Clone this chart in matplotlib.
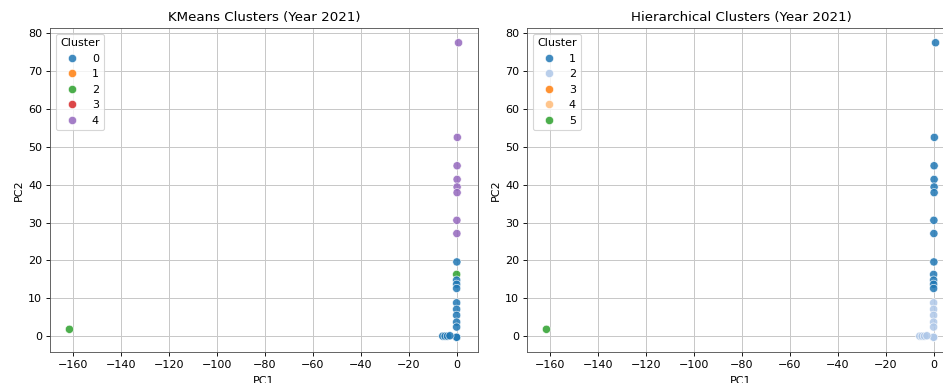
import matplotlib
matplotlib.use("Agg")
import matplotlib.pyplot as plt
import pandas as pd
import seaborn as sns

# PCA projection of the 2021 observations and their cluster assignments
pc1 = [0.8, 0.3, 0.2, 0.2, 0.2, 0.2, 0.1, 0.1,
       0.1, 0.0, 0.0, 0.0, 0.0,
       0.0, 0.0, 0.0, 0.0, 0.0, 0.0,
       0.0, -5.8, -4.8, -3.8, -2.8,
       -161.5]
pc2 = [77.5, 52.5, 45.0, 41.4, 39.4, 37.9, 30.6, 27.1,
       19.6, 16.3, 14.8, 13.7, 12.6,
       8.8, 7.1, 5.5, 3.7, 2.4, -0.3,
       -0.3, 0.0, 0.0, 0.0, 0.1,
       1.8]
kmeans_labels = [4, 4, 4, 4, 4, 4, 4, 4,
                 0, 2, 0, 0, 0,
                 0, 0, 0, 0, 0, 0,
                 0, 0, 0, 0, 0,
                 2]
hier_labels = [1, 1, 1, 1, 1, 1, 1, 1,
               1, 1, 1, 1, 1,
               2, 2, 2, 2, 2, 2,
               2, 2, 2, 2, 2,
               5]
kmeans_clusters = [0, 1, 2, 3, 4]
hier_clusters = [1, 2, 3, 4, 5]

df = pd.DataFrame({"PC1": pc1, "PC2": pc2,
                   "KMeans": kmeans_labels, "Hier": hier_labels})

fig = plt.figure(figsize=(943 / 80, 383 / 80), dpi=80)
W, H = 943, 383
ax1 = fig.add_axes([50 / W, (H - 352) / H, 428 / W, 324 / H])
ax2 = fig.add_axes([527 / W, (H - 352) / H, 428 / W, 324 / H])

point_kw = dict(s=55, alpha=0.85, edgecolor="white", linewidth=0.6)

sns.scatterplot(data=df, x="PC1", y="PC2", hue="KMeans",
                hue_order=kmeans_clusters,
                palette=dict(zip(kmeans_clusters, sns.color_palette("tab10", 5))),
                ax=ax1, **point_kw)
ax1.set_title("KMeans Clusters (Year 2021)")

sns.scatterplot(data=df, x="PC1", y="PC2", hue="Hier",
                hue_order=hier_clusters,
                palette=dict(zip(hier_clusters, sns.color_palette("tab20", 5))),
                ax=ax2, **point_kw)
ax2.set_title("Hierarchical Clusters (Year 2021)")

for ax in (ax1, ax2):
    ax.set_xticks(range(-160, 1, 20))
    ax.set_yticks(range(0, 81, 10))
    ax.grid(True, color="#c8c8c8", linewidth=0.9)
    ax.set_axisbelow(True)
    ax.legend(title="Cluster", loc="upper left")
    ax.xaxis.labelpad = 6
    for sp in ax.spines.values():
        sp.set_color("#555555")

fig.savefig("out.png", dpi=80)
